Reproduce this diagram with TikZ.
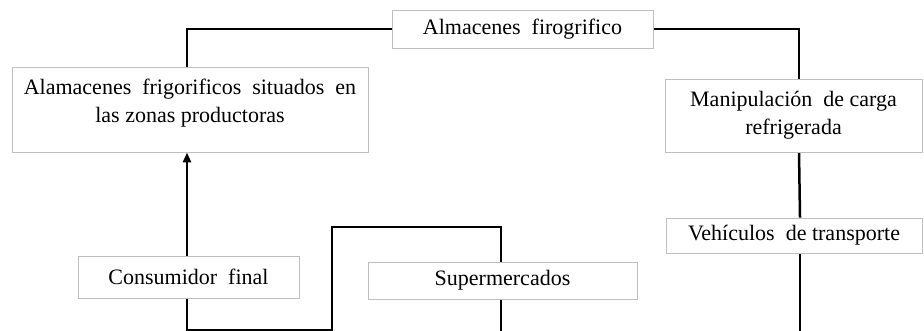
\documentclass[tikz,border=0pt]{standalone}
\usepackage{fontspec}
\setmainfont{Liberation Serif}
\usetikzlibrary{arrows.meta,backgrounds}

\tikzset{
  caja/.style={draw=black!25, fill=white, inner sep=0pt, font=\fontsize{11}{14}\selectfont},
  flujo/.style={line width=1.25pt, black}
}

\begin{document}
\begin{tikzpicture}[x=0.5pt,y=-0.5pt]
  \useasboundingbox (0,0) rectangle (924,331);

  \node[caja, minimum width=130.5pt, minimum height=19pt] (alm) at (522.5,29) {Almacenes\ \ firogrifico};
  \node[caja, minimum width=178pt, minimum height=42.5pt] (prod) at (190,109.5)
     {\parbox[c][42.5pt][t]{170pt}{\vspace{6pt}\centering
      Alamacenes\ \ frigorificos\ \ situados\ \ en\\ las zonas productoras}};
  \node[caja, minimum width=128.5pt, minimum height=36.5pt, align=center] (mani) at (793.5,115.5)
     {Manipulación\ \ de carga\\ refrigerada};
  \node[caja, minimum width=128pt, minimum height=17.5pt] (veh) at (794,235.5) {Vehículos\ \ de transporte};
  \node[caja, minimum width=110.5pt, minimum height=21pt] (cons) at (188.5,277) {Consumidor\ \ final};
  \node[caja, minimum width=134.5pt, minimum height=18.5pt] (super) at (502.5,280.5) {Supermercados};

  \coordinate (b1) at (187,331);
  \coordinate (b2) at (332,227);
  \coordinate (b3) at (501,331);
  \coordinate (b4) at (800,331);

\begin{scope}[on background layer]
  \draw[flujo] ([xshift=-1.5pt]prod.north) |- (alm.west);
  \draw[flujo] (alm.east) -| ([xshift=2.75pt]mani.north);
  \draw[flujo] ([xshift=2.75pt]mani.south) -- ([xshift=3pt]veh.north);
  \draw[flujo] ([xshift=3pt]veh.south) -- (b4);
  \draw[flujo, -{Triangle[length=5pt,width=4pt]}] (b1) -- (b1 |- prod.south);
  \draw[flujo] ([yshift=0.6pt]b1) -| (b2) -| (b3);
\end{scope}
\end{tikzpicture}
\end{document}
